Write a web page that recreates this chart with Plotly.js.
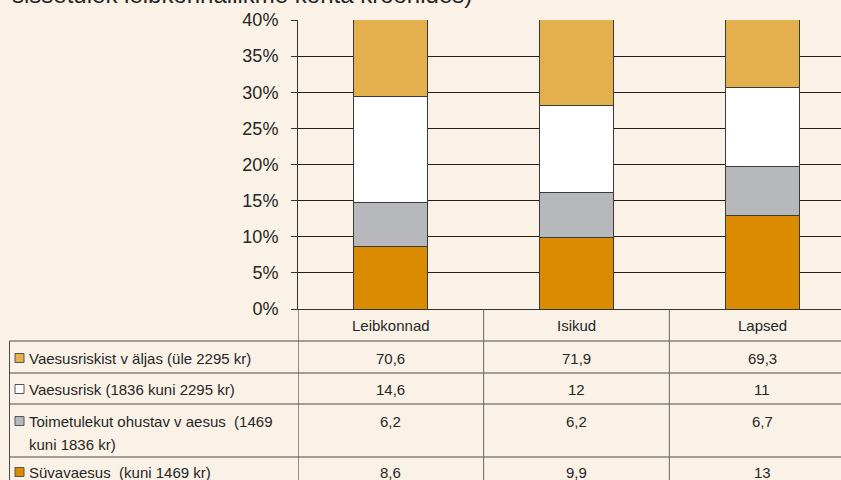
<!DOCTYPE html>
<html>
<head>
<meta charset="utf-8">
<script src="https://cdn.plot.ly/plotly-3.0.1.min.js"></script>
<style>
html,body{margin:0;padding:0;overflow:hidden;background:#FAF2E6;width:841px;height:480px;}
#chart{width:870px;height:480px;}
</style>
</head>
<body>
<div id="chart"></div>
<script>
// ---- data ----
const categories = ['Leibkonnad', 'Isikud', 'Lapsed'];
const seriesNames = [
  'Vaesusriskist v äljas (üle 2295 kr)',
  'Vaesusrisk (1836 kuni 2295 kr)',
  'Toimetulekut ohustav v aesus  (1469<br>kuni 1836 kr)',
  'Süvavaesus  (kuni 1469 kr)'
];
const valVäljas = [70.6, 71.9, 69.3];
const valRisk = [14.6, 12, 11];
const valToimetulek = [6.2, 6.2, 6.7];
const valSüva = [8.6, 9.9, 13];
const yTickVals = [0, 5, 10, 15, 20, 25, 30, 35, 40];
const titleText = 'sissetulek leibkonnaliikme kohta kroonides)';

// ---- styling ----
const colors = ['#E4AF4D', '#FFFFFF', '#B7B8BB', '#DA8C00'];
const seriesValues = [valVäljas, valRisk, valToimetulek, valSüva];
const FONT = 'Liberation Sans, Arial, sans-serif';
const TXT = '#262626';
const TBL = 15;

const W = 870, Hh = 480, L = 298, R = 15, T = 20, B = 171;
const plotW = W - L - R, plotH = Hh - T - B, zeroY = Hh - B;
const px = x => (x - L) / plotW;
const py = y => (zeroY - y) / plotH;

// bars stacked bottom to top: Süva, Toimetulek, Risk, Väljas
const traces = [];
for (let i = seriesValues.length - 1; i >= 0; i--) {
  traces.push({
    type: 'bar',
    x: categories,
    y: seriesValues[i],
    name: seriesNames[i],
    width: 0.4,
    marker: {color: colors[i], line: {color: '#3a3a3a', width: 1}},
    hoverinfo: 'skip'
  });
}

const shapes = [];
const annotations = [];
const lineCol = '#4a4a4a';
// table horizontal lines
const rowLines = [341, 373, 404, 457];
rowLines.forEach(y => shapes.push({type: 'line', xref: 'paper', yref: 'paper',
  x0: px(9.5), x1: 1.1, y0: py(y), y1: py(y), line: {color: lineCol, width: 1}}));
// left border
shapes.push({type: 'line', xref: 'paper', yref: 'paper', x0: px(9.5), x1: px(9.5),
  y0: py(341), y1: py(500), line: {color: lineCol, width: 1}});
// column dividers (category boundaries)
[-0.5, 0.5, 1.5, 2.5].forEach(c => shapes.push({type: 'line', xref: 'x', yref: 'paper',
  x0: c, x1: c, y0: 0, y1: py(500), line: {color: c === -0.5 ? '#333' : '#666', width: 1}}));

// header labels
categories.forEach(c => annotations.push({xref: 'x', yref: 'paper', x: c, y: py(325),
  text: c, showarrow: false, xanchor: 'center', yanchor: 'middle',
  font: {family: FONT, size: TBL, color: TXT}}));

// rows
const rowCenters = [358, 389, 421, 472];
const lineGap = 23;
seriesNames.forEach((name, r) => {
  const yc = rowCenters[r];
  // legend square
  shapes.push({type: 'rect', xref: 'paper', yref: 'paper',
    x0: px(15), x1: px(24), y0: py(yc - 4.5), y1: py(yc + 4.5),
    fillcolor: colors[r], line: {color: '#555', width: 1}});
  name.split('<br>').forEach((ln, k) => annotations.push({xref: 'paper', yref: 'paper',
    x: px(27), y: py(yc + k * lineGap), text: ln, showarrow: false,
    xanchor: 'left', yanchor: 'middle', font: {family: FONT, size: TBL, color: TXT}}));
  seriesValues[r].forEach((v, ci) => annotations.push({xref: 'x', yref: 'paper',
    x: categories[ci], y: py(yc), text: String(v).replace('.', ','), showarrow: false,
    xanchor: 'center', yanchor: 'middle', font: {family: FONT, size: TBL, color: TXT}}));
});

// clipped title line at the top
annotations.push({xref: 'paper', yref: 'paper', x: px(10), y: py(10), text: titleText,
  showarrow: false, xanchor: 'left', yanchor: 'bottom',
  font: {family: FONT, size: 24, color: TXT}});

const layout = {
  width: W, height: Hh,
  margin: {l: L, r: R, t: T, b: B, pad: 0},
  paper_bgcolor: '#FAF2E6',
  plot_bgcolor: '#FAF2E6',
  barmode: 'stack',
  showlegend: false,
  xaxis: {type: 'category', showticklabels: false, ticks: '', showgrid: false,
    showline: true, linecolor: '#333', linewidth: 1, range: [-0.5, 2.5], fixedrange: true},
  yaxis: {range: [0, 40], tickvals: yTickVals, ticktext: yTickVals.map(v => v + '%'),
    showgrid: true, gridcolor: '#1f1f1f', gridwidth: 1, zeroline: false,
    showline: true, linecolor: '#333', linewidth: 1,
    ticks: 'outside', ticklen: 6, tickcolor: '#333', ticklabelstandoff: 9,
    tickfont: {family: FONT, size: 18, color: TXT}, fixedrange: true},
  shapes: shapes,
  annotations: annotations
};

Plotly.newPlot('chart', traces, layout, {displayModeBar: false, staticPlot: true});
</script>
</body>
</html>
